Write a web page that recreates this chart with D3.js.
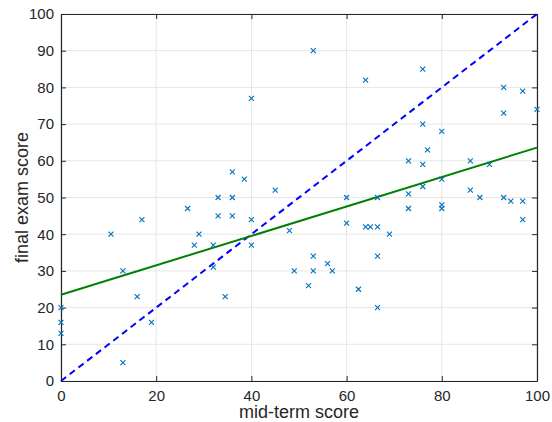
<!DOCTYPE html>
<html>
<head>
<meta charset="utf-8">
<script src="https://cdn.jsdelivr.net/npm/d3@7"></script>
<style>
  body { margin: 0; background: #fff; }
  svg { display: block; font-family: "Liberation Sans", Arial, sans-serif; }
</style>
</head>
<body>
<svg id="chart" width="552" height="422"></svg>
<script>
// mid-term vs final exam scores
const midTerm = [40, 36, 38.5, 45, 33, 36, 53, 64, 76, 93, 97, 100, 93, 76, 80, 77, 73, 76, 86, 90,
  80, 76, 73, 86, 88, 93, 94.5, 97, 97, 60, 66.5, 73, 80, 80, 60, 64, 65, 66.5, 69, 66.5,
  62.5, 66.5, 53, 49, 53, 56, 57, 52, 48, 26.6, 33, 36, 40, 17, 10.5, 29, 28, 32, 40, 32,
  13, 16, 34.5, 19, 13, 0, 0, 0];
const finalExam = [77, 57, 55, 52, 50, 50, 90, 82, 85, 80, 79, 74, 73, 70, 68, 63, 60, 59, 60, 59,
  55, 53, 51, 52, 50, 50, 49, 49, 44, 50, 50, 47, 48, 47, 43, 42, 42, 42, 40, 34,
  25, 20, 34, 30, 30, 32, 30, 26, 41, 47, 45, 45, 44, 44, 40, 40, 37, 37, 37, 31,
  30, 23, 23, 16, 5, 20, 16, 13];
const fitX = [0, 100];
const fitY = [23.5, 63.6];
const diagonal = [0, 100];
const xTicks = [0, 20, 40, 60, 80, 100];
const yTicks = [0, 10, 20, 30, 40, 50, 60, 70, 80, 90, 100];

const margin = { top: 14, right: 15, bottom: 41, left: 61 };
const svg = d3.select('#chart');
const width = +svg.attr('width') - margin.left - margin.right;
const height = +svg.attr('height') - margin.top - margin.bottom;
const g = svg.append('g').attr('transform', `translate(${margin.left},${margin.top})`);

const x = d3.scaleLinear().domain([0, 100]).range([0, width]);
const y = d3.scaleLinear().domain([0, 100]).range([height, 0]);

// grid
g.selectAll('.gx').data(xTicks).join('line')
  .attr('x1', d => x(d)).attr('x2', d => x(d)).attr('y1', 0).attr('y2', height)
  .attr('stroke', '#e6e6e6').attr('stroke-width', 1);
g.selectAll('.gy').data(yTicks).join('line')
  .attr('y1', d => y(d)).attr('y2', d => y(d)).attr('x1', 0).attr('x2', width)
  .attr('stroke', '#e6e6e6').attr('stroke-width', 1);

// axes (ticks pointing inward, box on)
const tickLen = 5;
const styleAxis = function (sel) {
  sel.select('.domain').attr('stroke', '#262626');
  sel.selectAll('.tick line').attr('stroke', '#262626');
  sel.selectAll('text').attr('fill', '#262626').style('font-size', '15px');
};
g.append('g').attr('transform', `translate(0,${height})`)
  .call(d3.axisBottom(x).tickValues(xTicks).tickSizeInner(-tickLen).tickSizeOuter(0).tickPadding(9))
  .call(styleAxis);
g.append('g')
  .call(d3.axisLeft(y).tickValues(yTicks).tickSizeInner(-tickLen).tickSizeOuter(0).tickPadding(7))
  .call(styleAxis);
g.append('g')
  .call(d3.axisTop(x).tickValues(xTicks).tickSizeInner(-tickLen).tickSizeOuter(0).tickFormat(''))
  .call(styleAxis);
g.append('g').attr('transform', `translate(${width},0)`)
  .call(d3.axisRight(y).tickValues(yTicks).tickSizeInner(-tickLen).tickSizeOuter(0).tickFormat(''))
  .call(styleAxis);
g.selectAll('.domain').attr('stroke-width', 1.2);

// y = x reference
const line = d3.line().x(d => x(d[0])).y(d => y(d[1]));
g.append('path')
  .attr('d', line(diagonal.map(v => [v, v])))
  .attr('fill', 'none').attr('stroke', '#0000ff').attr('stroke-width', 2)
  .attr('stroke-dasharray', '6.5,4.5');

// regression fit
g.append('path')
  .attr('d', line(fitX.map((v, i) => [v, fitY[i]])))
  .attr('fill', 'none').attr('stroke', '#008000').attr('stroke-width', 2);

// markers
const s = 2.5;
g.selectAll('.pt').data(midTerm.map((v, i) => [v, finalExam[i]])).join('path')
  .attr('d', d => {
    const px = x(d[0]), py = y(d[1]);
    return `M${px - s},${py - s}L${px + s},${py + s}M${px - s},${py + s}L${px + s},${py - s}`;
  })
  .attr('stroke', '#0072bd').attr('stroke-width', 1.1).attr('fill', 'none');

// labels
svg.append('text')
  .attr('x', margin.left + width / 2).attr('y', 418)
  .attr('text-anchor', 'middle').attr('fill', '#262626').style('font-size', '18px')
  .text('mid-term score');
svg.append('text')
  .attr('transform', `translate(28,${margin.top + height / 2}) rotate(-90)`)
  .attr('text-anchor', 'middle').attr('fill', '#262626').style('font-size', '18px')
  .text('final exam score');
</script>
</body>
</html>
